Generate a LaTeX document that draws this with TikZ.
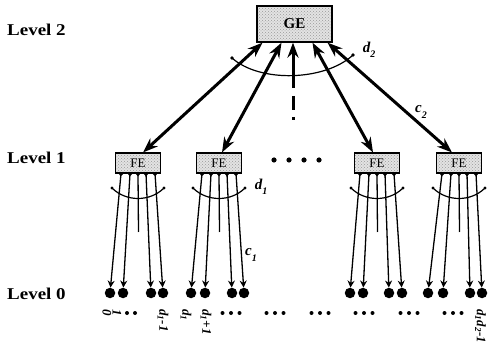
\documentclass[tikz,border=0pt]{standalone}
\usepackage{fontspec}
\setmainfont{Liberation Serif}
\usetikzlibrary{arrows.meta,patterns}
\begin{document}
\begin{tikzpicture}[x=1pt,y=-1pt,
  lvl/.style={font=\bfseries\fontsize{16.5}{16.5}\selectfont, anchor=west, inner sep=0pt},
  gebox/.style={draw, line width=1.3pt, preaction={fill=gray!22}, pattern=crosshatch dots, pattern color=gray!80,
    minimum width=75pt, minimum height=36pt, inner sep=0pt, font=\bfseries\fontsize{15}{15}\selectfont},
  febox/.style={draw, line width=1.1pt, preaction={fill=gray!22}, pattern=crosshatch dots, pattern color=gray!80,
    minimum width=45pt, minimum height=20pt, inner sep=0pt, font=\fontsize{13}{13}\selectfont},
  bigarrow/.style={line width=3pt, {Stealth[length=15pt,width=11pt]}-{Stealth[length=15pt,width=11pt]}},
  leafline/.style={line width=1.3pt, {Triangle[reversed,length=3pt,width=4.5pt]}-{Stealth[length=7pt,width=7pt]}},
  midline/.style={line width=1.3pt, {Triangle[reversed,length=3pt,width=4.5pt]}-},
  leafnode/.style={circle, fill=black, minimum size=10.5pt, inner sep=0pt},
  arcline/.style={line width=1.2pt},
  lab/.style={font=\bfseries\itshape\fontsize{15}{15}\selectfont, inner sep=0pt},
  idx/.style={font=\bfseries\itshape\fontsize{13}{13}\selectfont, rotate=-90, anchor=west, inner sep=0pt}
]
\useasboundingbox (0,0) rectangle (489,352);

% level labels
\node[lvl] (L2) at (7,30) {\scalebox{1.15}[1]{Level 2}};
\node[lvl] (L1) at (7,158) {\scalebox{1.15}[1]{Level 1}};
\node[lvl] (L0) at (7,294) {\scalebox{1.15}[1]{Level 0}};

% boxes
\node[gebox] (GE) at (294.5,24) {GE};
\node[febox] (FE1) at (138,163) {FE};
\node[febox] (FE2) at (219,163) {FE};
\node[febox] (FE3) at (377,163) {FE};
\node[febox] (FE4) at (459,163) {FE};

% dots between FE2 and FE3
\foreach \x in {274,289,304,319} \fill (\x,160) circle (2.6);

% thick bidirectional arrows
\draw[bigarrow] ([xshift=-32pt]GE.south) -- ([xshift=5pt]FE1.north);
\draw[bigarrow] ([xshift=-13pt]GE.south) -- ([xshift=3pt]FE2.north);
\draw[bigarrow] ([xshift=18pt]GE.south) -- ([xshift=-4pt]FE3.north);
\draw[bigarrow] ([xshift=33pt]GE.south) -- ([xshift=-7pt]FE4.north);

% dashed vertical arrow
\coordinate (vd) at (293,88);
\draw[line width=3pt, -{Stealth[length=15pt,width=11pt]}] (vd) -- ([xshift=-1.5pt]GE.south);
\draw[line width=3pt, dash pattern=on 14pt off 7pt on 3pt off 20pt] (293,96) -- (293,125);

% d2 arc
\draw[arcline] (232,58) .. controls (260,83) and (325,81) .. (353,55);
\fill (232,58) circle (1.8);
\fill (353,55) circle (1.8);
\node[lab] (d2) at (369,50) {d\raisebox{-0.35em}{\fontsize{10}{10}\selectfont 2}};
\node[lab] (c2) at (421,112) {c\raisebox{-0.35em}{\fontsize{10}{10}\selectfont 2}};

% leaves and lower connectors
\foreach \g/\cx/\a/\b/\c/\d in {1/138/110/123/151/163, 2/219/191/205/232/244, 3/377/350/363/389/402, 4/459/428/443/470/482}{
  \node[leafnode] (n\g a) at (\a,293) {};
  \node[leafnode] (n\g b) at (\b,293) {};
  \node[leafnode] (n\g c) at (\c,293) {};
  \node[leafnode] (n\g d) at (\d,293) {};
  \coordinate (m\g) at (\cx+0.5,232);
  \draw[leafline] ([xshift=-17pt]FE\g.south) -- (n\g a);
  \draw[leafline] ([xshift=-8pt]FE\g.south) -- (n\g b);
  \draw[midline] (FE\g.south) -- (m\g);
  \draw[leafline] ([xshift=8pt]FE\g.south) -- (n\g c);
  \draw[leafline] ([xshift=17pt]FE\g.south) -- (n\g d);
  \draw[arcline] (\cx-26,188) .. controls (\cx-12,202) and (\cx+12,202) .. (\cx+26,188);
  \fill (\cx-26,188) circle (1.6);
  \fill (\cx+26,188) circle (1.6);
}
\node[lab] (d1) at (261,187) {d\raisebox{-0.35em}{\fontsize{10}{10}\selectfont 1}};
\node[lab] (c1) at (251,255) {c\raisebox{-0.35em}{\fontsize{10}{10}\selectfont 1}};

% index labels
\node[idx] (i0) at (107,309) {0};
\node[idx] (i1) at (117,309) {1};
\foreach \x in {127,135} \fill (\x,313) circle (2);
\node[idx] (i2) at (163,309) {d\textsubscript{1}-1};
\node[idx] (i3) at (186,309) {d\textsubscript{1}};
\node[idx] (i4) at (206,309) {d\textsubscript{1}+1};
\foreach \x in {231,275,320,364,409,453}{
  \fill (\x-8.5,313) circle (2);
  \fill (\x,313) circle (2);
  \fill (\x+8.5,313) circle (2);
}
\node[idx] (i5) at (480.5,309) {d\textsubscript{1}d\textsubscript{2}-1};
\end{tikzpicture}
\end{document}
